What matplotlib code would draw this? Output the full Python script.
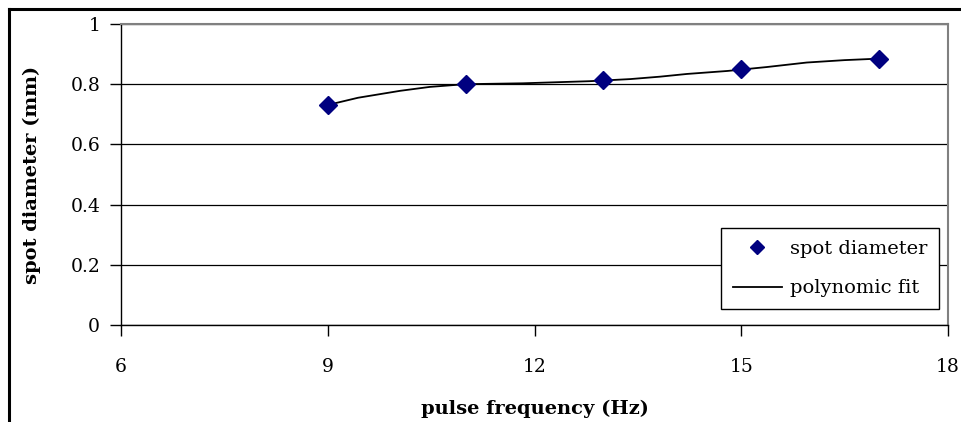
import matplotlib.pyplot as plt
from matplotlib.lines import Line2D

plt.rcParams['font.family'] = ['DejaVu Serif']

freq = [9, 11, 13, 15, 17]
diam = [0.731, 0.800, 0.814, 0.850, 0.885]

# fit curve
fit_x = [9.0, 9.44, 10.05, 10.48, 10.99, 11.83, 12.8, 13.39, 13.82, 14.21,
         14.8, 15.37, 15.95, 16.5, 17.0]
fit_y = [0.731, 0.755, 0.778, 0.791, 0.800, 0.803, 0.810, 0.817, 0.825, 0.834,
         0.844, 0.857, 0.872, 0.880, 0.885]

fig = plt.figure(figsize=(9.62, 4.22), dpi=100)
ax = fig.add_axes([121/962, 1-325/422, (948-121)/962, (325-24)/422])

ax.plot(fit_x, fit_y, color='black', lw=1.3, label='polynomic fit', zorder=3)
ax.plot(freq, diam, ls='none', marker='D', ms=9, color='#000080',
        label='spot diameter', zorder=4)

ax.set_xlim(6, 18)
ax.set_ylim(0, 1)
ax.set_xticks([6, 9, 12, 15, 18])
ax.set_yticks([0, 0.2, 0.4, 0.6, 0.8, 1])
ax.set_yticklabels(['0', '0.2', '0.4', '0.6', '0.8', '1'])
ax.yaxis.grid(True, color='black', lw=0.9)
ax.set_axisbelow(True)

for s in ['top', 'right']:
    ax.spines[s].set_color('#808080')
    ax.spines[s].set_linewidth(1.5)
for s in ['left', 'bottom']:
    ax.spines[s].set_color('black')
    ax.spines[s].set_linewidth(1.0)

ax.tick_params(direction='out', length=8, width=1, labelsize=13.5, pad=7)
ax.tick_params(axis='x', pad=16)

ax.set_xlabel('pulse frequency (Hz)', fontsize=14, fontweight='bold', labelpad=17)
ax.set_ylabel('spot diameter (mm)', fontsize=14, fontweight='bold', labelpad=21)

h, l = ax.get_legend_handles_labels()
leg = ax.legend(h[::-1], l[::-1], loc='lower right', bbox_to_anchor=(0.9895, 0.053),
                fontsize=14, fancybox=False, framealpha=1, edgecolor='black',
                borderpad=0.6, handlelength=2.5, handletextpad=0.45,
                labelspacing=1.1, borderaxespad=0, markerscale=0.8)
leg.get_frame().set_linewidth(1.0)

# outer frame
fig.add_artist(Line2D([9/962, 1], [1-9/422, 1-9/422], color='black', lw=2.2))
fig.add_artist(Line2D([9/962, 9/962], [0, 1-9/422], color='black', lw=2.2))

fig.savefig('out.png', dpi=100)
